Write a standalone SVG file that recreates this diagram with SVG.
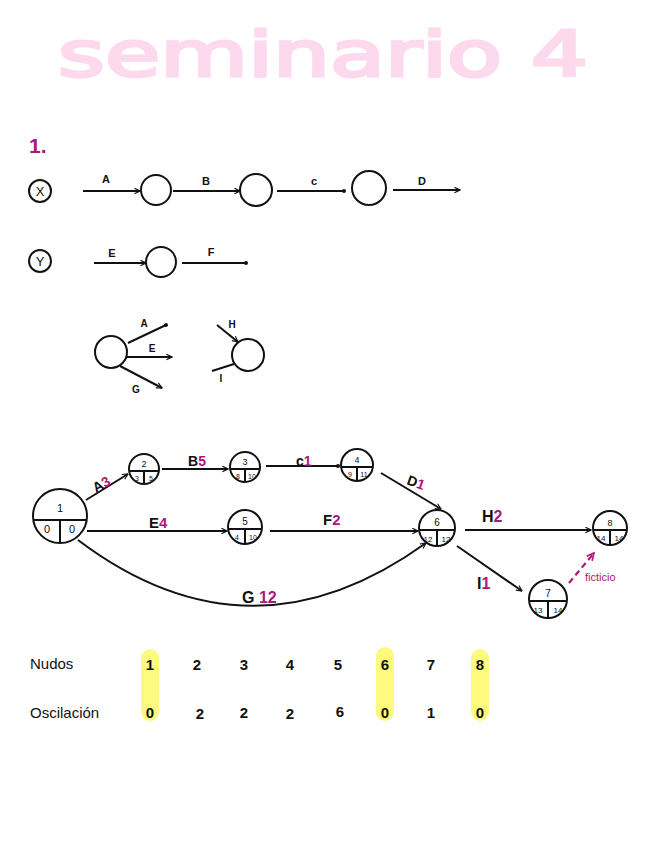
<svg xmlns="http://www.w3.org/2000/svg" width="656" height="848" viewBox="0 0 656 848">
<style>
.t{font-family:"Liberation Sans","DejaVu Sans",sans-serif;fill:#111;}
.m{fill:#b0157a;font-weight:bold;}
.ln{stroke:#111;stroke-width:2;fill:none;}
.nd{stroke:#111;stroke-width:2;fill:#fff;}
.sm{font-size:9px;text-anchor:middle;}
</style>
<defs>
<marker id="ah" viewBox="0 0 10 10" refX="9" refY="5" markerWidth="7" markerHeight="7" orient="auto" markerUnits="userSpaceOnUse">
<path d="M1,1 L9,5 L1,9" fill="none" stroke="#111" stroke-width="1.6"/>
</marker>
<marker id="dt" viewBox="0 0 10 10" refX="5" refY="5" markerWidth="5" markerHeight="5" orient="auto" markerUnits="userSpaceOnUse">
<circle cx="5" cy="5" r="4" fill="#111"/>
</marker>
<marker id="ahm" viewBox="0 0 10 10" refX="9" refY="5" markerWidth="9" markerHeight="9" orient="auto" markerUnits="userSpaceOnUse">
<path d="M1,1 L9,5 L1,9" fill="none" stroke="#b0157a" stroke-width="1.8"/>
</marker>
</defs>
<rect width="656" height="848" fill="#fff"/>
<g id="title">
<text x="58" y="76" font-family="DejaVu Sans,sans-serif" font-size="62" textLength="530" lengthAdjust="spacingAndGlyphs" fill="#fdd9ee" stroke="#fdd9ee" stroke-width="3">seminario 4</text>
</g>
<text x="29" y="153" class="t m" font-size="21">1.</text>
<g id="sec-x">
<circle cx="40" cy="191" r="11" class="ln"/>
<text x="40" y="196" class="t" font-size="13" text-anchor="middle">X</text>
<text x="106" y="183" class="t" font-size="11" font-weight="bold" text-anchor="middle">A</text>
<text x="206" y="185" class="t" font-size="11" font-weight="bold" text-anchor="middle">B</text>
<text x="314" y="185" class="t" font-size="11" font-weight="bold" text-anchor="middle">c</text>
<text x="422" y="185" class="t" font-size="11" font-weight="bold" text-anchor="middle">D</text>
<circle cx="156" cy="190" r="15" class="ln"/>
<circle cx="256" cy="190" r="16" class="ln"/>
<circle cx="369" cy="188" r="17" class="ln"/>
</g>
<g id="sec-y">
<circle cx="40" cy="261" r="11" class="ln"/>
<text x="40" y="266" class="t" font-size="13" text-anchor="middle">Y</text>
<text x="112" y="257" class="t" font-size="11" font-weight="bold" text-anchor="middle">E</text>
<text x="211" y="256" class="t" font-size="11" font-weight="bold" text-anchor="middle">F</text>
<circle cx="161" cy="262" r="15" class="ln"/>
</g>
<g id="fan-out">
<circle cx="111" cy="352" r="16" class="ln"/>
<text x="144" y="327" class="t" font-size="10" font-weight="bold" text-anchor="middle">A</text>
<text x="152" y="352" class="t" font-size="10" font-weight="bold" text-anchor="middle">E</text>
<text x="136" y="393" class="t" font-size="10" font-weight="bold" text-anchor="middle">G</text>
</g>
<g id="fan-in">
<circle cx="248" cy="355" r="16" class="ln"/>
<text x="232" y="328" class="t" font-size="10" font-weight="bold" text-anchor="middle">H</text>
<text x="221" y="382" class="t" font-size="10" font-weight="bold" text-anchor="middle">I</text>
</g>
<g id="n1"><circle cx="60" cy="516" r="27" class="nd"/><path d="M33,520 H87 M60,520 V543" class="ln"/><text x="60" y="512" class="t" font-size="11" text-anchor="middle">1</text><text x="47" y="533" class="t" font-size="11" text-anchor="middle">0</text><text x="72" y="533" class="t" font-size="11" text-anchor="middle">0</text></g>
<g id="n2"><circle cx="144" cy="469" r="15" class="nd"/><path d="M129,471 H159 M144,471 V484" class="ln"/><text x="144" y="467" class="t sm">2</text><text x="137" y="481" class="t" font-size="7" text-anchor="middle">3</text><text x="151" y="481" class="t" font-size="7" text-anchor="middle">5</text></g>
<g id="n3"><circle cx="245" cy="467" r="15" class="nd"/><path d="M230,469 H260 M245,469 V482" class="ln"/><text x="245" y="465" class="t sm">3</text><text x="238" y="479" class="t" font-size="7" text-anchor="middle">8</text><text x="252" y="479" class="t" font-size="7" text-anchor="middle">10</text></g>
<g id="n4"><circle cx="357" cy="465" r="16" class="nd"/><path d="M341,467 H373 M357,467 V481" class="ln"/><text x="357" y="463" class="t sm">4</text><text x="350" y="477" class="t" font-size="7" text-anchor="middle">9</text><text x="364" y="477" class="t" font-size="7" text-anchor="middle">11</text></g>
<g id="n5"><circle cx="245" cy="527" r="17" class="nd"/><path d="M228,529 H262 M245,529 V544" class="ln"/><text x="245" y="525" class="t" font-size="10" text-anchor="middle">5</text><text x="237" y="540" class="t" font-size="7" text-anchor="middle">4</text><text x="253" y="540" class="t" font-size="7" text-anchor="middle">10</text></g>
<g id="n6"><circle cx="437" cy="528" r="18" class="nd"/><path d="M419,530 H455 M437,530 V546" class="ln"/><text x="437" y="526" class="t" font-size="10" text-anchor="middle">6</text><text x="428" y="542" class="t" font-size="8" text-anchor="middle">12</text><text x="446" y="542" class="t" font-size="8" text-anchor="middle">12</text></g>
<g id="n7"><circle cx="548" cy="599" r="19" class="nd"/><path d="M529,601 H567 M548,601 V618" class="ln"/><text x="548" y="597" class="t" font-size="10" text-anchor="middle">7</text><text x="538" y="613" class="t" font-size="8" text-anchor="middle">13</text><text x="558" y="613" class="t" font-size="8" text-anchor="middle">14</text></g>
<g id="n8"><circle cx="610" cy="528" r="17" class="nd"/><path d="M593,530 H627 M610,530 V545" class="ln"/><text x="610" y="526" class="t" font-size="9" text-anchor="middle">8</text><text x="601" y="541" class="t" font-size="8" text-anchor="middle">14</text><text x="619" y="541" class="t" font-size="8" text-anchor="middle">14</text></g>
<g id="connectors">
<line x1="83" y1="191" x2="140" y2="191" class="ln" marker-end="url(#ah)"/>
<line x1="173" y1="191" x2="240" y2="191" class="ln" marker-end="url(#ah)"/>
<line x1="277" y1="191" x2="344" y2="191" class="ln" marker-end="url(#dt)"/>
<line x1="393" y1="190" x2="460" y2="190" class="ln" marker-end="url(#ah)"/>
<line x1="94" y1="263" x2="146" y2="263" class="ln" marker-end="url(#ah)"/>
<line x1="182" y1="263" x2="246" y2="263" class="ln" marker-end="url(#dt)"/>
<line x1="128" y1="343" x2="166" y2="325" class="ln" marker-end="url(#dt)"/>
<line x1="127" y1="357" x2="172" y2="357" class="ln" marker-end="url(#ah)"/>
<line x1="120" y1="366" x2="162" y2="388" class="ln" marker-end="url(#ah)"/>
<line x1="217" y1="325" x2="238" y2="342" class="ln" marker-end="url(#ah)"/>
<line x1="212" y1="371" x2="234" y2="364" class="ln"/>
<line x1="86" y1="500" x2="128" y2="474" class="ln" marker-end="url(#ah)"/>
<line x1="162" y1="469" x2="228" y2="469" class="ln" marker-end="url(#ah)"/>
<line x1="266" y1="466" x2="338" y2="466" class="ln" marker-end="url(#dt)"/>
<line x1="381" y1="473" x2="441" y2="509" class="ln" marker-end="url(#ah)"/>
<line x1="87" y1="531" x2="227" y2="531" class="ln" marker-end="url(#ah)"/>
<line x1="270" y1="531" x2="418" y2="531" class="ln" marker-end="url(#ah)"/>
<path d="M78,540 Q250,670 426,543" class="ln" marker-end="url(#ah)"/>
<line x1="465" y1="530" x2="591" y2="530" class="ln" marker-end="url(#ah)"/>
<line x1="457" y1="546" x2="522" y2="591" class="ln" marker-end="url(#ah)"/>
<line x1="569" y1="583" x2="594" y2="553" stroke="#b0157a" stroke-width="2.2" stroke-dasharray="6,4" marker-end="url(#ahm)"/>
<text x="96" y="493" class="t" font-size="14" font-weight="bold" transform="rotate(-30 96 493)">A<tspan class="m">3</tspan></text>
<text x="188" y="466" class="t" font-size="14" font-weight="bold">B<tspan class="m">5</tspan></text>
<text x="296" y="466" class="t" font-size="14" font-weight="bold">c<tspan class="m">1</tspan></text>
<text x="406" y="484" class="t" font-size="14" font-weight="bold" transform="rotate(20 406 484)">D<tspan class="m">1</tspan></text>
<text x="149" y="528" class="t" font-size="15" font-weight="bold">E<tspan class="m">4</tspan></text>
<text x="323" y="525" class="t" font-size="15" font-weight="bold">F<tspan class="m">2</tspan></text>
<text x="242" y="603" class="t" font-size="16" font-weight="bold">G <tspan class="m">12</tspan></text>
<text x="482" y="522" class="t" font-size="16" font-weight="bold">H<tspan class="m">2</tspan></text>
<text x="477" y="589" class="t" font-size="16" font-weight="bold">I<tspan class="m">1</tspan></text>
<text x="585" y="581" font-family="Liberation Sans,sans-serif" font-size="11" fill="#b0157a">ficticio</text>
</g>
<g id="table">
<rect x="141" y="649" width="18" height="72" rx="9" fill="#fdfa7e"/>
<rect x="376" y="647" width="18" height="74" rx="9" fill="#fdfa7e"/>
<rect x="471" y="649" width="18" height="72" rx="9" fill="#fdfa7e"/>
<text x="30" y="669" class="t" font-size="15">Nudos</text>
<text x="30" y="718" class="t" font-size="15">Oscilación</text>
<g class="t" font-size="15" font-weight="bold" text-anchor="middle">
<text x="150" y="670">1</text><text x="197" y="670">2</text><text x="244" y="670">3</text><text x="290" y="670">4</text><text x="338" y="670">5</text><text x="385" y="670">6</text><text x="431" y="670">7</text><text x="480" y="670">8</text>
<text x="150" y="718">0</text><text x="200" y="719">2</text><text x="244" y="718">2</text><text x="290" y="719">2</text><text x="340" y="717">6</text><text x="385" y="718">0</text><text x="431" y="718">1</text><text x="480" y="718">0</text>
</g>
</g>
</svg>
